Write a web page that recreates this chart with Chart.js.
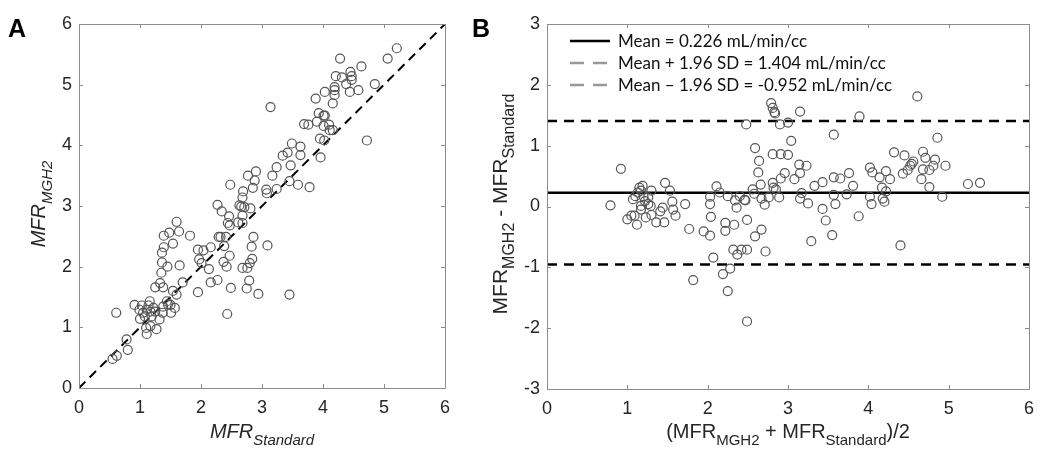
<!DOCTYPE html>
<html>
<head>
<meta charset="utf-8">
<script src="https://cdn.jsdelivr.net/npm/chart.js@4.4.1/dist/chart.umd.min.js"></script>
<style>
  html, body { margin: 0; padding: 0; background: #fff; }
  #page { position: relative; width: 1050px; height: 459px; overflow: hidden;
          font-family: 'Liberation Sans', Arial, sans-serif; color: #262626; }
  .wrap { position: absolute; top: 0; }
  .panel { position: absolute; font-weight: bold; font-size: 25px; color: #000; }
  .title { position: absolute; font-size: 20px; line-height: 20px; text-align: center; white-space: nowrap; }
  .title sub { font-size: 15px; vertical-align: -7px; line-height: 0; }
  .big { font-size: 21px; }
  .big sub { font-size: 16px; }
  .it { font-style: italic; }
  .rot { transform: rotate(-90deg); transform-origin: center center; }
</style>
</head>
<body>
<div id="page">
  <div class="wrap" style="left:0;width:460px;height:459px"><canvas id="chart-a" width="460" height="459"></canvas></div>
  <div class="wrap" style="left:460px;width:590px;height:459px"><canvas id="chart-b" width="590" height="459"></canvas></div>

  <div class="panel" style="left:8px;top:14px">A</div>
  <div class="panel" style="left:472px;top:14px">B</div>

  <div class="title it" style="left:79px;top:421px;width:366px">MFR<sub>Standard</sub></div>
  <div class="title it rot" style="left:-145px;top:194px;width:366px;height:20px">MFR<sub>MGH2</sub></div>

  <div class="title" style="left:547px;top:421px;width:482px">(MFR<sub>MGH2</sub> + MFR<sub>Standard</sub>)/2</div>
  <div class="title big rot" style="left:317px;top:194px;width:366px;height:20px">MFR<sub>MGH2</sub> - MFR<sub>Standard</sub></div>
</div>

<script>
// ---- Panel A: MFR standard (x) vs MFR MGH2 (y) ----
const MFR_STANDARD = [
  0.55, 0.62, 0.61, 0.78, 0.80, 0.91, 1.00, 0.99, 1.03, 1.05, 1.08, 1.11, 1.14, 1.16, 1.17, 1.19,
  1.10, 1.11, 1.17, 1.27, 1.25, 1.32, 1.22, 1.37, 1.38, 1.44, 1.46, 1.50, 1.51, 1.57, 1.60, 1.54,
  1.70, 1.25, 1.33, 1.38, 1.35, 1.36, 1.36, 1.39, 1.39, 1.48, 1.45, 1.54, 1.60, 1.64, 1.65, 1.82,
  1.95, 1.95, 1.97, 2.01, 2.04, 2.13, 2.16, 2.16, 2.27, 2.27, 2.34, 2.29, 2.32, 2.38, 2.37, 2.41,
  2.42, 2.43, 2.44, 2.46, 2.47, 2.47, 2.48, 2.49, 2.61, 2.63, 2.66, 2.68, 2.69, 2.71, 2.68, 2.68,
  2.68, 2.76, 2.75, 2.77, 2.80, 2.79, 2.81, 2.83, 2.84, 2.85, 2.86, 2.88, 2.90, 2.94, 3.07, 3.08,
  3.09, 3.14, 3.17, 3.24, 3.24, 3.34, 3.42, 3.45, 3.45, 3.47, 3.49, 3.59, 3.63, 3.63, 3.69, 3.78,
  3.76, 3.88, 3.90, 3.93, 3.95, 3.96, 4.01, 4.03, 4.01, 4.02, 4.03, 4.10, 4.11, 4.16, 4.16, 4.19,
  4.19, 4.19, 4.21, 4.28, 4.31, 4.38, 4.44, 4.45, 4.47, 4.47, 4.58, 4.63, 4.72, 4.85, 5.06, 5.21
];
const MFR_MGH2 = [
  0.48, 0.53, 1.24, 0.80, 0.63, 1.37, 1.14, 1.29, 1.36, 1.24, 1.18, 1.29, 1.36, 1.43, 1.26, 1.18,
  0.99, 0.89, 1.02, 0.97, 1.26, 1.13, 1.32, 1.24, 1.34, 1.43, 1.38, 1.37, 1.24, 1.32, 1.54, 1.60,
  1.74, 1.66, 1.73, 1.66, 1.90, 2.07, 2.23, 2.32, 2.51, 2.56, 2.00, 2.38, 2.74, 2.58, 2.02, 2.51,
  1.58, 2.28, 2.12, 2.06, 2.27, 1.96, 2.32, 1.74, 1.78, 3.02, 2.91, 2.49, 2.49, 2.34, 2.08, 2.49,
  2.00, 1.22, 2.72, 2.83, 2.18, 2.68, 3.35, 1.65, 2.73, 3.01, 2.99, 3.14, 3.24, 2.98, 2.84, 2.72,
  1.98, 1.98, 1.64, 3.50, 2.06, 1.77, 2.96, 2.33, 2.13, 3.30, 2.49, 3.42, 3.57, 1.55, 3.27, 3.21,
  2.35, 4.63, 3.50, 3.28, 3.64, 3.83, 3.88, 3.41, 1.54, 3.67, 4.03, 3.35, 3.98, 3.84, 4.35, 3.31,
  4.34, 4.77, 4.39, 4.53, 4.11, 3.80, 4.49, 4.49, 4.32, 4.08, 4.88, 4.34, 4.25, 4.25, 4.69, 4.91,
  4.83, 4.96, 5.14, 5.43, 5.12, 5.01, 4.88, 5.21, 5.14, 5.08, 4.91, 5.30, 4.08, 5.01, 5.43, 5.60
];
const A_MIN = 0, A_MAX = 6;

// ---- Panel B: Bland-Altman (average vs difference) ----
const BA_AVERAGE = [
  0.79, 0.92, 1.00, 1.05, 1.09, 1.12, 1.07, 1.10, 1.13, 1.15, 1.17, 1.19, 1.20, 1.22, 1.17, 1.17,
  1.23, 1.26, 1.26, 1.29, 1.30, 1.30, 1.36, 1.41, 1.44, 1.46, 1.47, 1.53, 1.56, 1.57, 1.60, 1.72,
  1.77, 1.82, 1.95, 2.03, 2.03, 2.04, 2.03, 2.07, 2.11, 2.15, 2.19, 2.22, 2.22, 2.25, 2.25, 2.28,
  2.32, 2.33, 2.34, 2.36, 2.37, 2.42, 2.40, 2.46, 2.47, 2.48, 2.49, 2.49, 2.49, 2.56, 2.58, 2.59,
  2.59, 2.63, 2.64, 2.66, 2.67, 2.67, 2.71, 2.72, 2.76, 2.79, 2.81, 2.83, 2.84, 2.81, 2.81, 2.82,
  2.85, 2.89, 2.90, 2.91, 2.91, 2.96, 3.00, 3.00, 3.04, 3.08, 3.14, 3.15, 3.15, 3.15, 3.17, 3.23,
  3.25, 3.29, 3.33, 3.43, 3.43, 3.47, 3.55, 3.57, 3.57, 3.57, 3.59, 3.65, 3.73, 3.76, 3.81, 3.89,
  3.88, 4.02, 4.02, 4.04, 4.05, 4.14, 4.17, 4.18, 4.20, 4.22, 4.22, 4.27, 4.32, 4.40, 4.43, 4.45,
  4.49, 4.52, 4.54, 4.56, 4.61, 4.66, 4.68, 4.68, 4.71, 4.76, 4.76, 4.81, 4.83, 4.86, 4.92, 4.96,
  5.24, 5.39
];
const BA_DIFFERENCE = [
  0.02, 0.62, -0.21, -0.15, -0.15, -0.30, 0.12, 0.17, 0.23, 0.31, 0.26, 0.34, 0.17, 0.09, 0.01, -0.05,
  -0.18, 0.15, 0.04, 0.01, 0.26, -0.14, -0.26, -0.08, -0.02, -0.26, 0.39, 0.26, 0.08, -0.05, -0.15, 0.04,
  -0.37, -1.21, -0.41, 0.16, 0.04, -0.17, -0.48, -0.84, 0.33, 0.23, -1.11, -0.27, -0.40, 0.17, -1.39, -1.02,
  -0.71, -0.30, 0.10, -0.02, -0.79, -0.71, 0.17, 0.11, 0.10, 1.35, -0.71, -0.22, -1.89, 0.28, 0.21, -0.49,
  0.96, 0.56, 0.75, 0.36, -0.38, 0.13, 0.03, -0.74, 0.15, 1.70, 1.62, 1.55, 1.53, 0.86, 0.39, 0.31,
  0.28, 0.15, 1.35, 0.86, 0.46, 0.55, 1.38, 0.85, 1.08, 0.45, 0.69, 0.55, 0.13, 1.56, 0.22, 0.67,
  0.05, -0.57, 0.34, -0.04, 0.40, -0.23, -0.47, 1.18, 0.48, 0.19, 0.04, 0.46, 0.20, 0.55, 0.34, 1.48,
  -0.16, 0.64, 0.16, 0.04, 0.56, 0.48, 0.31, 0.13, 0.08, 0.58, 0.25, 0.45, 0.89, -0.64, 0.54, 0.84,
  0.60, 0.67, 0.70, 0.74, 1.81, 0.45, 0.90, 0.61, 0.80, 0.60, 0.32, 0.67, 0.77, 1.13, 0.16, 0.67,
  0.37, 0.39
];
const BA_MEAN  = 0.226;
const BA_UPPER = 1.404;
const BA_LOWER = -0.952;
const B_X_MIN = 0, B_X_MAX = 6, B_Y_MIN = -3, B_Y_MAX = 3;

const LEGEND_TEXT = [
  'Mean = 0.226 mL/min/cc',
  'Mean + 1.96 SD = 1.404 mL/min/cc',
  'Mean \u2013 1.96 SD = -0.952 mL/min/cc',
];

// ---- shared look ----
const AXIS_COLOR = '#8c8c8c';
const TEXT_COLOR = '#262626';
const MARKER     = { pointStyle: 'circle', pointRadius: 4.5, pointBorderWidth: 1.2,
                     borderColor: '#555', backgroundColor: 'rgba(0,0,0,0)', showLine: false };

Chart.defaults.font.family = "'Liberation Sans', Arial, sans-serif";
Chart.defaults.font.size   = 18;
Chart.defaults.color       = TEXT_COLOR;
Chart.defaults.animation   = false;

const zip = (xs, ys) => xs.map((x, i) => ({ x, y: ys[i] }));

// Matlab-style box with inward tick marks on all four sides
const boxPlugin = {
  id: 'matlabBox',
  afterDraw(chart) {
    const { ctx, chartArea: { left, right, top, bottom }, scales: { x, y } } = chart;
    const L = 4;
    ctx.save();
    ctx.strokeStyle = AXIS_COLOR;
    ctx.lineWidth = 1;
    ctx.beginPath();
    ctx.rect(Math.round(left) + 0.5, Math.round(top) + 0.5, Math.round(right - left), Math.round(bottom - top));
    x.ticks.forEach(t => {
      const px = Math.round(x.getPixelForValue(t.value)) + 0.5;
      ctx.moveTo(px, bottom); ctx.lineTo(px, bottom - L);
      ctx.moveTo(px, top);    ctx.lineTo(px, top + L);
    });
    y.ticks.forEach(t => {
      const py = Math.round(y.getPixelForValue(t.value)) + 0.5;
      ctx.moveTo(left, py);  ctx.lineTo(left + L, py);
      ctx.moveTo(right, py); ctx.lineTo(right - L, py);
    });
    ctx.stroke();
    ctx.restore();
  },
};

// Legend drawn inside the plot, top-left (uses dataset legend* fields)
const insideLegend = {
  id: 'insideLegend',
  afterDraw(chart) {
    const { ctx, chartArea: { left, top } } = chart;
    const items = chart.data.datasets.filter(d => d.legendText);
    ctx.save();
    ctx.font = "17px Lato, 'Open Sans', sans-serif";
    ctx.textBaseline = 'middle';
    ctx.fillStyle = '#111';
    items.forEach((d, i) => {
      const yy = top + 17 + i * 22;
      const x0 = left + 23;
      ctx.beginPath();
      ctx.strokeStyle = d.legendColor;
      ctx.lineWidth = 2.5;
      ctx.setLineDash(d.legendDash || []);
      ctx.moveTo(x0, yy); ctx.lineTo(x0 + 40, yy);
      ctx.stroke();
      ctx.setLineDash([]);
      ctx.fillText(d.legendText, x0 + 48, yy + 1);
    });
    ctx.restore();
  },
};

function linearAxis(min, max, isX, fitSize) {
  return {
    type: 'linear', min, max,
    ticks: { stepSize: 1, padding: isX ? 9 : 7, color: TEXT_COLOR, font: { size: 18 } },
    grid:   { display: false, drawTicks: false },
    border: { display: false },
    afterFit(scale) { if (isX) scale.height = fitSize; else scale.width = fitSize; },
  };
}

new Chart(document.getElementById('chart-a'), {
  type: 'scatter',
  data: {
    datasets: [
      { label: 'MFR', data: zip(MFR_STANDARD, MFR_MGH2), ...MARKER },
      { type: 'line', label: 'Identity', data: [{ x: A_MIN, y: A_MIN }, { x: A_MAX, y: A_MAX }],
        borderColor: '#000', borderWidth: 2, borderDash: [9, 6], pointRadius: 0, fill: false },
    ],
  },
  plugins: [boxPlugin],
  options: {
    responsive: false,
    layout: { padding: { top: 24, right: 15, left: 0, bottom: 0 } },
    plugins: { legend: { display: false }, tooltip: { enabled: false } },
    scales: { x: linearAxis(A_MIN, A_MAX, true, 71), y: linearAxis(A_MIN, A_MAX, false, 79) },
  },
});

const hline = (value, dash, text, legendColor, legendDash) => ({
  type: 'line', label: text, legendText: text, legendColor, legendDash,
  data: [{ x: B_X_MIN, y: value }, { x: B_X_MAX, y: value }],
  borderColor: '#000', borderWidth: 2.5, borderDash: dash, pointRadius: 0, fill: false,
});

new Chart(document.getElementById('chart-b'), {
  type: 'scatter',
  data: {
    datasets: [
      { label: 'Difference', data: zip(BA_AVERAGE, BA_DIFFERENCE), ...MARKER },
      hline(BA_MEAN,  [],      LEGEND_TEXT[0], '#000', []),
      hline(BA_UPPER, [10, 7], LEGEND_TEXT[1], '#999', [14, 9]),
      hline(BA_LOWER, [10, 7], LEGEND_TEXT[2], '#999', [14, 9]),
    ],
  },
  plugins: [boxPlugin, insideLegend],
  options: {
    responsive: false,
    layout: { padding: { top: 24, right: 21, left: 0, bottom: 0 } },
    plugins: { legend: { display: false }, tooltip: { enabled: false } },
    scales: { x: linearAxis(B_X_MIN, B_X_MAX, true, 70), y: linearAxis(B_Y_MIN, B_Y_MAX, false, 87) },
  },
});
</script>
</body>
</html>
